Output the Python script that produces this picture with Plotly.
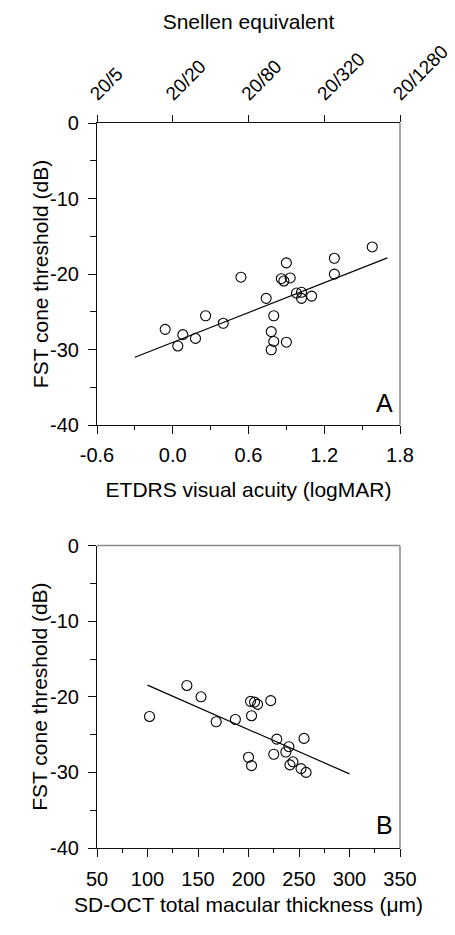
import plotly.graph_objects as go

# Panel A data
acuity_logmar = [-0.06, 0.08, 0.04, 0.18, 0.26, 0.40, 0.54, 0.74, 0.80, 0.78, 0.80, 0.78,
                 0.90, 0.90, 0.86, 0.93, 0.88, 0.98, 1.02, 1.02, 1.10, 1.28, 1.28, 1.58]
cone_a = [-27.3, -28.0, -29.5, -28.5, -25.5, -26.5, -20.4, -23.2, -25.5, -27.6, -28.9, -30.0,
          -29.0, -18.5, -20.6, -20.5, -20.9, -22.5, -22.4, -23.2, -22.9, -17.9, -20.0, -16.4]
fit_a_x = [-0.3, 1.7]
fit_a_y = [-31.0, -17.85]

# Panel B data
thickness = [102, 139, 153, 168, 187, 203, 202, 206, 209, 222, 200, 203, 228, 255, 225,
             240, 237, 244, 241, 252, 257]
cone_b = [-22.6, -18.5, -20.0, -23.3, -23.0, -22.5, -20.6, -20.7, -21.0, -20.5, -28.0,
          -29.1, -25.6, -25.5, -27.6, -26.6, -27.3, -28.6, -29.0, -29.5, -30.0]
fit_b_x = [100, 300]
fit_b_y = [-18.45, -30.2]

# Tick labels
logmar_ticks = [-0.6, 0.0, 0.6, 1.2, 1.8]
logmar_ticktext = ["-0.6", "0.0", "0.6", "1.2", "1.8"]
snellen_ticktext = ["20/5", "20/20", "20/80", "20/320", "20/1280"]
thick_ticks = [50, 100, 150, 200, 250, 300, 350]
thick_ticktext = ["50", "100", "150", "200", "250", "300", "350"]
y_ticks = [0, -10, -20, -30, -40]
y_ticktext = ["0", "-10", "-20", "-30", "-40"]

FONT = "Liberation Sans, Arial, sans-serif"
TICKF = dict(family=FONT, size=20, color="black")
TITLEF = dict(family=FONT, size=21, color="black")
AXC = "#111111"
GRAY = "#8a8a8a"

fig = go.Figure()

marker = dict(symbol="circle-open", size=10, color="black", line=dict(width=1.1, color="black"))

fig.add_trace(go.Scatter(x=acuity_logmar, y=cone_a, mode="markers", marker=marker,
                         xaxis="x", yaxis="y", showlegend=False))
fig.add_trace(go.Scatter(x=fit_a_x, y=fit_a_y, mode="lines", line=dict(color="black", width=1.2),
                         xaxis="x", yaxis="y", showlegend=False))
# invisible trace to activate top axis
fig.add_trace(go.Scatter(x=fit_a_x, y=fit_a_y, mode="lines", line=dict(width=0), opacity=0,
                         xaxis="x3", yaxis="y", showlegend=False, hoverinfo="skip"))
fig.add_trace(go.Scatter(x=thickness, y=cone_b, mode="markers", marker=marker,
                         xaxis="x2", yaxis="y2", showlegend=False))
fig.add_trace(go.Scatter(x=fit_b_x, y=fit_b_y, mode="lines", line=dict(color="black", width=1.2),
                         xaxis="x2", yaxis="y2", showlegend=False))

common_axis = dict(showgrid=False, zeroline=False, showline=True, linecolor=AXC, linewidth=1.2,
                   ticks="outside", tickcolor=AXC, tickwidth=1.2, ticklen=8, tickfont=TICKF,
                   automargin=False)

ydom_a = [0.583, 1.0]
ydom_b = [0.0, 0.4171]

yminor = dict(dtick=5, tick0=0, ticks="outside", ticklen=6, tickcolor=AXC, tickwidth=1.2)

top_axis = dict(common_axis)
top_axis["tickfont"] = dict(family=FONT, size=19, color="black")
top_axis["ticklen"] = 7

fig.update_layout(
    width=455, height=935,
    margin=dict(l=97, r=55, t=123, b=87, pad=0, autoexpand=False),
    paper_bgcolor="white", plot_bgcolor="white",
    xaxis=dict(**common_axis, domain=[0, 1], anchor="y", range=[-0.6, 1.8],
               tickvals=logmar_ticks, ticktext=logmar_ticktext, ticklabelstandoff=4,
               minor=dict(dtick=0.3, tick0=-0.6, ticks="outside", ticklen=4, tickcolor=AXC, tickwidth=1.2),
               title=dict(text="ETDRS visual acuity (logMAR)", font=TITLEF, standoff=16)),
    xaxis3=dict(**top_axis, overlaying="x", side="top", anchor="y", range=[-0.6, 1.8],
                tickvals=logmar_ticks, ticktext=snellen_ticktext, tickangle=-45,
                ticklabelshift=-6, ticklabelstandoff=3, ticklabeloverflow="allow",
                title=dict(text="Snellen equivalent", font=TITLEF, standoff=5)),
    yaxis=dict(**common_axis, domain=ydom_a, anchor="x", range=[-40, 0],
               tickvals=y_ticks, ticktext=y_ticktext, ticklabelstandoff=5, minor=yminor),
    xaxis2=dict(**common_axis, domain=[0, 1], anchor="y2", range=[50, 350],
                tickvals=thick_ticks, ticktext=thick_ticktext, ticklabelstandoff=5,
                minor=dict(dtick=25, tick0=50, ticks="outside", ticklen=4, tickcolor=AXC, tickwidth=1.2),
                title=dict(text="SD-OCT total macular thickness (μm)", font=TITLEF, standoff=8)),
    yaxis2=dict(**common_axis, domain=ydom_b, anchor="x2", range=[-40, 0],
                tickvals=y_ticks, ticktext=y_ticktext, ticklabelstandoff=5, minor=yminor),
)

# y-axis titles
for yd in (ydom_a, ydom_b):
    fig.add_annotation(text="FST cone threshold (dB)", xref="paper", yref="paper",
                       x=0, y=(yd[0] + yd[1]) / 2, xanchor="center", yanchor="middle",
                       xshift=-57, textangle=-90, showarrow=False, font=TITLEF)

# gray right borders (and top border for panel B)
fig.add_shape(type="line", xref="x domain", yref="y domain", x0=1, x1=1, y0=0, y1=1,
              line=dict(color=GRAY, width=1.5))
fig.add_shape(type="line", xref="x2 domain", yref="y2 domain", x0=1, x1=1, y0=0, y1=1,
              line=dict(color=GRAY, width=1.5))
fig.add_shape(type="line", xref="x2 domain", yref="y2 domain", x0=0, x1=1, y0=1, y1=1,
              line=dict(color=GRAY, width=1.5))

fig.add_annotation(text="A", xref="x domain", yref="y domain", x=0.985, y=0.075,
                   xanchor="right", yanchor="middle", showarrow=False,
                   font=dict(family=FONT, size=25, color="black"))
fig.add_annotation(text="B", xref="x2 domain", yref="y2 domain", x=0.985, y=0.075,
                   xanchor="right", yanchor="middle", showarrow=False,
                   font=dict(family=FONT, size=25, color="black"))

fig.write_html("out.html", config={"displayModeBar": False},
               post_script="document.body.style.margin='0px';")
